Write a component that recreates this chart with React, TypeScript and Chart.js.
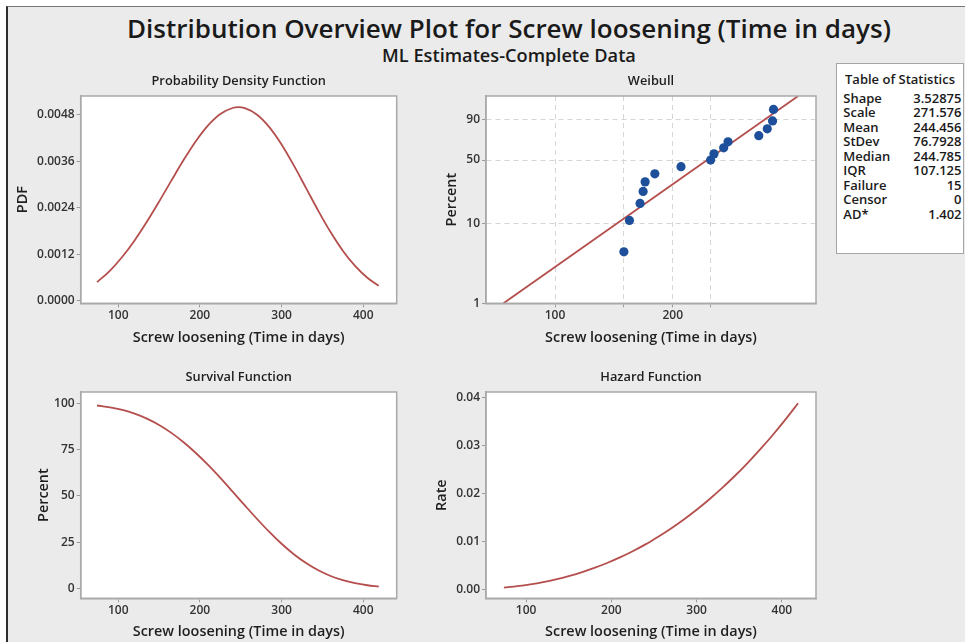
import React, { useEffect, useRef } from 'react';
import { Chart, registerables } from 'chart.js';

Chart.register(...registerables);

const FONT = "'Open Sans', 'Noto Sans', 'DejaVu Sans', sans-serif";

// ---------- text ----------
const MAIN_TITLE = 'Distribution Overview Plot for Screw loosening (Time in days)';
const SUB_TITLE = 'ML Estimates-Complete Data';
const X_TITLE = 'Screw loosening (Time in days)';

// ---------- fitted distribution curves ----------
const CURVE_X = [74, 90, 105, 120, 135, 150, 165, 180, 195, 210, 225, 240, 247, 255, 270, 285, 300, 315, 330, 345, 360, 375, 390, 405, 419];
const PDF_VALUES = [0.00048, 0.00078, 0.001135, 0.001557, 0.002039, 0.002561, 0.003102, 0.003634, 0.004121, 0.00453, 0.004825, 0.00498, 0.005, 0.004975, 0.004807, 0.004486, 0.004036, 0.003496, 0.002911, 0.002323, 0.001774, 0.001293, 0.000899, 0.000593, 0.000384];
const SURVIVAL_VALUES = [98.99, 97.99, 96.56, 94.55, 91.86, 88.41, 84.17, 79.11, 73.29, 66.79, 59.76, 52.39, 48.89, 44.9, 37.54, 30.55, 24.15, 18.49, 13.69, 9.76, 6.69, 4.4, 2.77, 1.66, 0.99];
const HAZARD_VALUES = [0.000485, 0.000796, 0.001175, 0.001647, 0.00222, 0.002897, 0.003686, 0.004593, 0.005623, 0.006783, 0.008075, 0.009506, 0.010224, 0.011082, 0.012805, 0.014681, 0.016714, 0.018909, 0.021268, 0.023799, 0.026504, 0.029386, 0.032452, 0.035699, 0.038903];

// ---------- Weibull probability plot ----------
const FAILURE_TIMES = [150, 155, 165, 168, 170, 180, 210, 250, 255, 270, 277, 332, 349, 360, 362];
const PLOT_PERCENTS = [4.5, 11.0, 17.5, 24.0, 30.5, 37.0, 43.5, 50.0, 56.5, 63.0, 69.5, 76.0, 82.5, 89.0, 95.5];
const FIT_X = [73.8, 418.7];
const FIT_PERCENTS = [1, 99];

// ---------- axis ticks ----------
const X_TICKS = [100, 200, 300, 400];
const PDF_TICKS = [0, 0.0012, 0.0024, 0.0036, 0.0048];
const SURVIVAL_TICKS = [0, 25, 50, 75, 100];
const HAZARD_TICKS = [0, 0.01, 0.02, 0.03, 0.04];
const WEIBULL_X_TICKS = [100, 150, 200, 250];
const WEIBULL_X_LABELS = ['100', '', '200', ''];
const WEIBULL_Y_TICKS = [1, 10, 50, 90];
const WEIBULL_Y_LABELS = ['1', '10', '50', '90'];

// ---------- statistics table ----------
const STAT_NAMES = ['Shape', 'Scale', 'Mean', 'StDev', 'Median', 'IQR', 'Failure', 'Censor', 'AD*'];
const STAT_VALUES = ['3.52875', '271.576', '244.456', '76.7928', '244.785', '107.125', '15', '0', '1.402'];

// ---------- styles ----------
const LINE_COLOR = '#b44f4e';
const POINT_COLOR = '#1d4f9a';
const FRAME_COLOR = '#a9a9a9';
const TICK_MARK = '#9a9a9a';
const TICK_TEXT = '#333333';
const TITLE_TEXT = '#1e1e1e';
const GRID_COLOR = '#d6d6d6';
const TICK_FONT = { family: FONT, size: 12, weight: '600' as const };
const AXIS_TITLE_FONT = { family: FONT, size: 14.4, weight: '600' as const };

const weibullY = (p: number) => Math.log(-Math.log(1 - p / 100));

function panelDecor(title: string) {
  return {
    id: 'panelDecor',
    beforeDraw(chart: any) {
      const { ctx, chartArea: a } = chart;
      ctx.save();
      ctx.fillStyle = '#ffffff';
      ctx.fillRect(a.left, a.top, a.right - a.left, a.bottom - a.top);
      ctx.restore();
    },
    afterDraw(chart: any) {
      const { ctx, chartArea: a } = chart;
      ctx.save();
      ctx.strokeStyle = FRAME_COLOR;
      ctx.lineWidth = 1.5;
      ctx.strokeRect(a.left, a.top, a.right - a.left, a.bottom - a.top);
      ctx.font = `600 12.8px ${FONT}`;
      ctx.fillStyle = TITLE_TEXT;
      ctx.textAlign = 'center';
      ctx.textBaseline = 'middle';
      ctx.fillText(title, (a.left + a.right) / 2, a.top - 15);
      ctx.restore();
    },
  };
}

interface LinearSpec {
  title: string;
  yTitle: string;
  yValues: number[];
  yMin: number;
  yMax: number;
  yTicks: number[];
  yDigits: number;
  yAxisWidth: number;
  yTitlePad: number;
  padRight: number;
  xAxisHeight: number;
  xTitlePad: number;
  xMin: number;
  xMax: number;
}

function linearPanel(o: LinearSpec): any {
  return {
    type: 'line',
    data: {
      datasets: [
        {
          data: CURVE_X.map((x, i) => ({ x, y: o.yValues[i] })),
          borderColor: LINE_COLOR,
          borderWidth: 1.8,
          pointRadius: 0,
          cubicInterpolationMode: 'monotone',
          fill: false,
        },
      ],
    },
    options: {
      responsive: false,
      animation: false,
      events: [],
      layout: { padding: { top: 30, right: o.padRight, left: 0, bottom: 0 } },
      plugins: { legend: { display: false }, tooltip: { enabled: false }, title: { display: false } },
      scales: {
        x: {
          type: 'linear',
          min: o.xMin,
          max: o.xMax,
          afterBuildTicks: (s: any) => {
            s.ticks = X_TICKS.map((v) => ({ value: v }));
          },
          afterFit: (s: any) => {
            s.height = o.xAxisHeight;
          },
          ticks: { font: TICK_FONT, color: TICK_TEXT, padding: 1, maxRotation: 0, autoSkip: false, callback: (v: any) => String(v) },
          grid: { drawOnChartArea: false, tickLength: 4, color: TICK_MARK },
          border: { color: FRAME_COLOR, width: 1.5 },
          title: { display: true, text: X_TITLE, font: AXIS_TITLE_FONT, color: TITLE_TEXT, padding: { top: 0, bottom: o.xTitlePad } },
        },
        y: {
          type: 'linear',
          min: o.yMin,
          max: o.yMax,
          afterBuildTicks: (s: any) => {
            s.ticks = o.yTicks.map((v) => ({ value: v }));
          },
          afterFit: (s: any) => {
            s.width = o.yAxisWidth;
          },
          ticks: { font: TICK_FONT, color: TICK_TEXT, padding: 2, autoSkip: false, callback: (v: any) => Number(v).toFixed(o.yDigits) },
          grid: { drawOnChartArea: false, tickLength: 4, color: TICK_MARK },
          border: { color: FRAME_COLOR, width: 1.5 },
          title: { display: true, text: o.yTitle, font: AXIS_TITLE_FONT, color: TITLE_TEXT, padding: { top: o.yTitlePad, bottom: 0 } },
        },
      },
    },
    plugins: [panelDecor(o.title)],
  };
}

function weibullPanel(): any {
  return {
    type: 'scatter',
    data: {
      datasets: [
        {
          type: 'scatter',
          data: FAILURE_TIMES.map((x, i) => ({ x, y: weibullY(PLOT_PERCENTS[i]) })),
          backgroundColor: POINT_COLOR,
          borderColor: POINT_COLOR,
          borderWidth: 0,
          pointRadius: 4.6,
        },
        {
          type: 'line',
          data: FIT_X.map((x, i) => ({ x, y: weibullY(FIT_PERCENTS[i]) })),
          borderColor: LINE_COLOR,
          borderWidth: 1.8,
          pointRadius: 0,
          fill: false,
        },
      ],
    },
    options: {
      responsive: false,
      animation: false,
      events: [],
      layout: { padding: { top: 30, right: 20, left: 0, bottom: 0 } },
      plugins: { legend: { display: false }, tooltip: { enabled: false }, title: { display: false } },
      scales: {
        x: {
          type: 'logarithmic',
          min: 66.6,
          max: 465,
          afterBuildTicks: (s: any) => {
            s.ticks = WEIBULL_X_TICKS.map((v) => ({ value: v }));
          },
          afterFit: (s: any) => {
            s.height = 56.7;
          },
          ticks: {
            font: TICK_FONT,
            color: TICK_TEXT,
            padding: 1,
            maxRotation: 0,
            autoSkip: false,
            callback: (v: any) => {
              const i = WEIBULL_X_TICKS.indexOf(Number(v));
              return i >= 0 ? WEIBULL_X_LABELS[i] : '';
            },
          },
          grid: { drawOnChartArea: true, tickLength: 4, color: GRID_COLOR, tickColor: TICK_MARK },
          border: { color: FRAME_COLOR, width: 1.5, dash: [5, 4] },
          title: { display: true, text: X_TITLE, font: AXIS_TITLE_FONT, color: TITLE_TEXT, padding: { top: 0, bottom: 13.6 } },
        },
        y: {
          type: 'linear',
          min: weibullY(1),
          max: weibullY(99),
          afterBuildTicks: (s: any) => {
            s.ticks = WEIBULL_Y_TICKS.map((p) => ({ value: weibullY(p) }));
          },
          afterFit: (s: any) => {
            s.width = 66;
          },
          ticks: { font: TICK_FONT, color: TICK_TEXT, padding: 2, autoSkip: false, callback: (_v: any, i: number) => WEIBULL_Y_LABELS[i] },
          grid: { drawOnChartArea: true, tickLength: 4, color: GRID_COLOR, tickColor: TICK_MARK },
          border: { color: FRAME_COLOR, width: 1.5, dash: [5, 4] },
          title: { display: true, text: 'Percent', font: AXIS_TITLE_FONT, color: TITLE_TEXT, padding: { top: 23.3, bottom: 0 } },
        },
      },
    },
    plugins: [panelDecor('Weibull')],
  };
}

const PANELS = [
  { key: 'pdf', left: 10, top: 66, width: 410, height: 294 },
  { key: 'weibull', left: 420, top: 66, width: 416, height: 294 },
  { key: 'survival', left: 10, top: 362, width: 410, height: 280 },
  { key: 'hazard', left: 420, top: 362, width: 416, height: 280 },
];

export default function App() {
  const pdfRef = useRef<HTMLCanvasElement>(null);
  const weibullRef = useRef<HTMLCanvasElement>(null);
  const survivalRef = useRef<HTMLCanvasElement>(null);
  const hazardRef = useRef<HTMLCanvasElement>(null);

  useEffect(() => {
    const charts: Chart[] = [];
    if (pdfRef.current) {
      charts.push(
        new Chart(
          pdfRef.current,
          linearPanel({
            title: 'Probability Density Function',
            yTitle: 'PDF',
            yValues: PDF_VALUES,
            yMin: -0.000067,
            yMax: 0.00529,
            yTicks: PDF_TICKS,
            yDigits: 4,
            yAxisWidth: 70.7,
            yTitlePad: 4.6,
            padRight: 23.3,
            xAxisHeight: 56.7,
            xTitlePad: 13.6,
            xMin: 54,
            xMax: 441,
          })
        )
      );
    }
    if (weibullRef.current) {
      charts.push(new Chart(weibullRef.current, weibullPanel()));
    }
    if (survivalRef.current) {
      charts.push(
        new Chart(
          survivalRef.current,
          linearPanel({
            title: 'Survival Function',
            yTitle: 'Percent',
            yValues: SURVIVAL_VALUES,
            yMin: -5.4,
            yMax: 106.3,
            yTicks: SURVIVAL_TICKS,
            yDigits: 0,
            yAxisWidth: 70.7,
            yTitlePad: 24.9,
            padRight: 23.3,
            xAxisHeight: 43.7,
            xTitlePad: 1.9,
            xMin: 54,
            xMax: 441,
          })
        )
      );
    }
    if (hazardRef.current) {
      charts.push(
        new Chart(
          hazardRef.current,
          linearPanel({
            title: 'Hazard Function',
            yTitle: 'Rate',
            yValues: HAZARD_VALUES,
            yMin: -0.00173,
            yMax: 0.04125,
            yTicks: HAZARD_TICKS,
            yDigits: 2,
            yAxisWidth: 66,
            yTitlePad: 13.3,
            padRight: 20,
            xAxisHeight: 43.7,
            xTitlePad: 1.9,
            xMin: 53,
            xMax: 440,
          })
        )
      );
    }
    return () => {
      charts.forEach((c) => c.destroy());
    };
  }, []);

  const refs: Record<string, React.RefObject<HTMLCanvasElement>> = {
    pdf: pdfRef,
    weibull: weibullRef,
    survival: survivalRef,
    hazard: hazardRef,
  };

  return (
    <div
      style={{
        position: 'absolute',
        left: 0,
        top: 0,
        width: 965,
        height: 642,
        overflow: 'hidden',
        background: '#ffffff',
        fontFamily: FONT,
      }}
    >
      <div
        style={{
          position: 'absolute',
          left: 6,
          top: 6,
          width: 970,
          height: 650,
          background: '#ebebeb',
          borderLeft: '2px solid #2e2e2e',
          borderTop: '1px solid #777777',
        }}
      />
      <div
        style={{
          position: 'absolute',
          left: 509,
          top: 28,
          transform: 'translate(-50%, -50%)',
          whiteSpace: 'nowrap',
          fontSize: 26,
          fontWeight: 600,
          color: '#1a1a1a',
          lineHeight: '32px',
        }}
      >
        {MAIN_TITLE}
      </div>
      <div
        style={{
          position: 'absolute',
          left: 509,
          top: 55,
          transform: 'translate(-50%, -50%)',
          whiteSpace: 'nowrap',
          fontSize: 18.2,
          fontWeight: 600,
          color: '#1a1a1a',
          lineHeight: '24px',
        }}
      >
        {SUB_TITLE}
      </div>
      {PANELS.map((p) => (
        <canvas
          key={p.key}
          ref={refs[p.key]}
          width={p.width}
          height={p.height}
          style={{ position: 'absolute', left: p.left, top: p.top, width: p.width, height: p.height }}
        />
      ))}
      <div
        style={{
          position: 'absolute',
          left: 836,
          top: 63,
          width: 128,
          height: 191,
          boxSizing: 'border-box',
          border: '1px solid #a5a5a5',
          background: '#ffffff',
          color: '#1a1a1a',
          fontSize: 13,
          fontWeight: 600,
        }}
      >
        <div
          style={{
            position: 'absolute',
            left: 0,
            width: 126,
            top: 16.3 - 1 - 8,
            height: 16,
            lineHeight: '16px',
            textAlign: 'center',
            whiteSpace: 'nowrap',
          }}
        >
          Table of Statistics
        </div>
        {STAT_NAMES.map((name, i) => {
          const top = 97.7 + i * 14.54 - 63 - 1 - 8;
          return (
            <React.Fragment key={name}>
              <div style={{ position: 'absolute', left: 6.3, top, height: 16, lineHeight: '16px', whiteSpace: 'nowrap' }}>{name}</div>
              <div style={{ position: 'absolute', right: 1.5, top, height: 16, lineHeight: '16px', whiteSpace: 'nowrap' }}>
                {STAT_VALUES[i]}
              </div>
            </React.Fragment>
          );
        })}
      </div>
    </div>
  );
}
